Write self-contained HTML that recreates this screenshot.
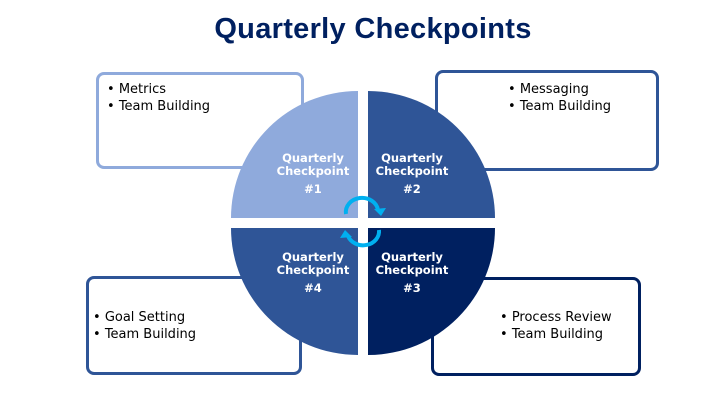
<!DOCTYPE html>
<html><head><style>
body{margin:0;width:720px;height:405px;background:#fff;position:relative;overflow:hidden;font-family:"DejaVu Sans",sans-serif}
.t{position:absolute;left:0;width:746px;top:13px;text-align:center;font:bold 29px "Liberation Sans",sans-serif;color:#002060;letter-spacing:0.3px}
.b{position:absolute;border:3px solid;border-radius:8px;background:#fff;box-sizing:border-box;font-size:13px;color:#000;line-height:17px}
.b ul{margin:0;padding:0;list-style:none}
.b li:before{content:"• ";}
</style></head><body>
<div class="t">Quarterly Checkpoints</div>
<div class="b" style="left:96px;top:72px;width:208px;height:97px;border-color:#8FAADC;padding:6px 0 0 8px"><ul><li>Metrics</li><li>Team Building</li></ul></div>
<div class="b" style="left:435px;top:70px;width:224px;height:101px;border-color:#2F5597;padding:8px 0 0 70px"><ul><li>Messaging</li><li>Team Building</li></ul></div>
<div class="b" style="left:86px;top:276px;width:216px;height:99px;border-color:#2F5597;padding:30px 0 0 4px"><ul><li>Goal Setting</li><li>Team Building</li></ul></div>
<div class="b" style="left:431px;top:277px;width:210px;height:99px;border-color:#002060;padding:29px 0 0 66px"><ul><li>Process Review</li><li>Team Building</li></ul></div>
<svg style="position:absolute;left:0;top:0" width="720" height="405">
<path d="M358 218 L231 218 A127 127 0 0 1 358 91 Z" fill="#8FAADC"/>
<path d="M368 218 L368 91 A127 127 0 0 1 495 218 Z" fill="#2F5597"/>
<path d="M368 228 L495 228 A127 127 0 0 1 368 355 Z" fill="#002060"/>
<path d="M358 228 L358 355 A127 127 0 0 1 231 228 Z" fill="#2F5597"/>
<g fill="#fff" font-family="DejaVu Sans" font-weight="bold" font-size="11.5" text-anchor="middle">
<text x="313" y="162">Quarterly</text><text x="313" y="175">Checkpoint</text><text x="313" y="193">#1</text>
<text x="412" y="162">Quarterly</text><text x="412" y="175">Checkpoint</text><text x="412" y="193">#2</text>
<text x="313" y="261">Quarterly</text><text x="313" y="274">Checkpoint</text><text x="313" y="292">#4</text>
<text x="412" y="261">Quarterly</text><text x="412" y="274">Checkpoint</text><text x="412" y="292">#3</text>
</g>
<g stroke="#00B0F0" stroke-width="4" fill="none">
<path d="M346 214 A16 14 0 0 1 378 210"/>
<path d="M379 230 A16 14 0 0 1 348 236"/>
</g>
<polygon points="374,209 386,208 381,216" fill="#00B0F0"/>
<polygon points="352,237 340,238 345,230" fill="#00B0F0"/>
</svg>
</body></html>
